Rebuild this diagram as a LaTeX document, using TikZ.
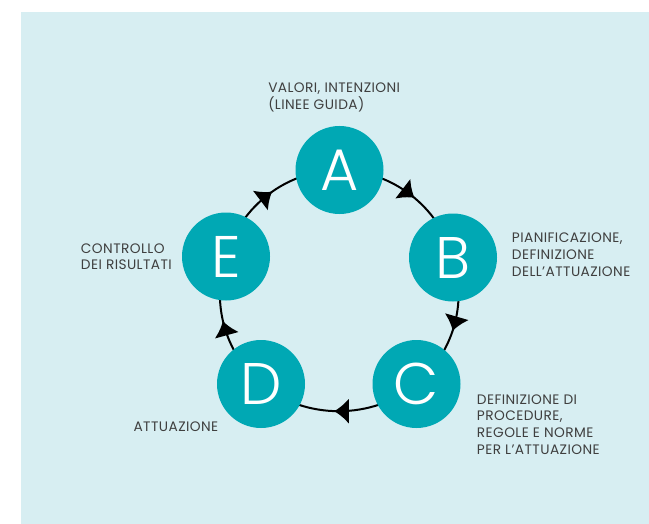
\documentclass[tikz,border=0pt]{standalone}
\usepackage{fontspec}
\IfFontExistsTF{Poppins}{\setmainfont{Poppins}[LetterSpace=3]}{\setmainfont{Lato}}
\IfFontExistsTF{Poppins Light}{\newfontfamily\bigfont{Poppins Light}}{%
  \IfFontExistsTF{Lato Light}{\newfontfamily\bigfont{Lato Light}}{\newfontfamily\bigfont{Lato}}}
\usetikzlibrary{arrows.meta,decorations.markings,backgrounds}
\definecolor{bgblue}{HTML}{D7EEF2}
\definecolor{stepteal}{HTML}{00A8B4}
\definecolor{lblgray}{HTML}{3F3F3F}
\tikzset{
  stage/.style={circle, fill=stepteal, minimum size=66pt, inner sep=0pt, text=white,
    font=\bigfont\fontsize{44}{44}\selectfont},
  cyc/.style={line width=1.5pt, looseness=0.94, postaction={decorate},
    decoration={markings, mark=at position 0.5 with {\arrow[xshift=3.5pt]{Latex[length=11pt,width=19pt]}}}},
  lab/.style={anchor=north west, inner sep=0pt, align=left, text=lblgray,
    font=\fontsize{10.3}{12.4}\selectfont}
}
\begin{document}
\begin{tikzpicture}[x=0.75pt,y=-0.75pt]
\node[stage] (A) at (339.5,170) {A};
\node[stage] (B) at (453,257.5) {B};
\node[stage] (C) at (416.5,384) {C};
\node[stage] (D) at (261,384) {D};
\node[stage] (E) at (226,256.5) {E};
\begin{scope}[on background layer]
\useasboundingbox[fill=white] (0,0) rectangle (649,524);
\fill[bgblue] (20.7,12) rectangle (649,524);
\draw[cyc] (A.center) to[bend left=37] (B.center);
\draw[cyc] (B.center) to[bend left=33.5] (C.center);
\draw[cyc] (C.center) to[bend left=39.5] (D.center);
\draw[cyc] (D.center) to[bend left=33.5] (E.center);
\draw[cyc] (E.center) to[bend left=37] (A.center);
\end{scope}
\node[lab] (la) at (268,83) {VALORI, INTENZIONI\\(LINEE GUIDA)};
\node[lab] (lb) at (511.7,233) {PIANIFICAZIONE,\\DEFINIZIONE\\DELL’ATTUAZIONE};
\node[lab] (lc) at (476.7,394.5) {DEFINIZIONE DI\\PROCEDURE,\\REGOLE E NORME\\PER L’ATTUAZIONE};
\node[lab] (ld) at (133.3,422) {ATTUAZIONE};
\node[lab] (le) at (80.7,243.5) {CONTROLLO\\DEI RISULTATI};
\end{tikzpicture}
\end{document}
